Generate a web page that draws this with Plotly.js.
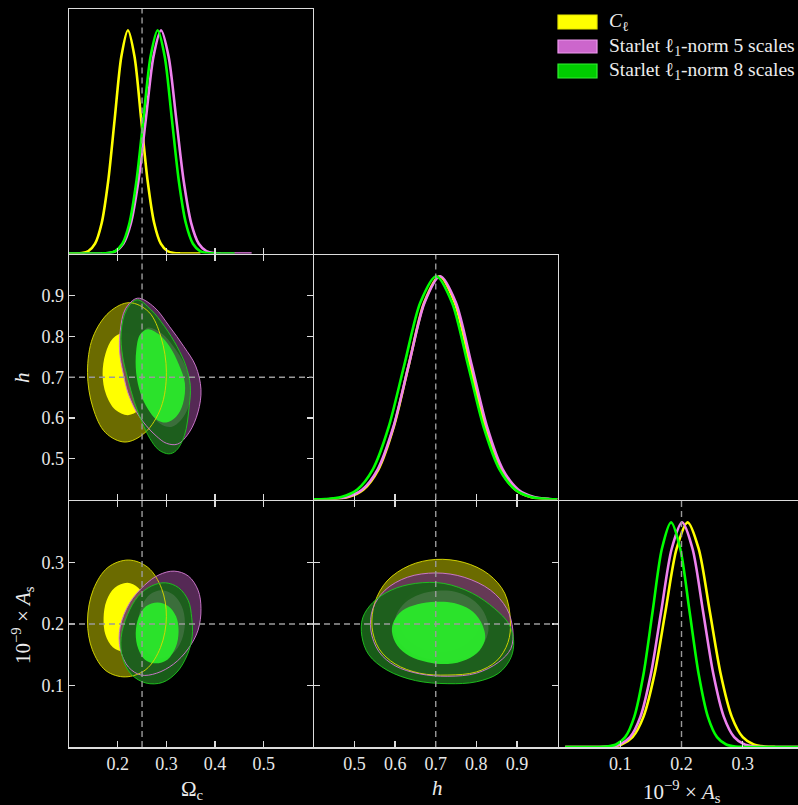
<!DOCTYPE html>
<html><head><meta charset="utf-8">
<script src="https://cdn.plot.ly/plotly-3.0.1.min.js"></script>
<style>html,body{margin:0;padding:0;background:#000;}</style>
</head><body><div id="chart" style="width:798px;height:805px;"></div>
<script>
// ---------- DATA ----------
const seriesNames = ['<i>C</i><sub>ℓ</sub>', 'Starlet ℓ<sub>1</sub>-norm 5 scales', 'Starlet ℓ<sub>1</sub>-norm 8 scales'];
const truthOmc = 0.25, truthH = 0.7, truthAs = 0.2;
const omcTicks = [0.2, 0.3, 0.4, 0.5], omcTickText = ['0.2', '0.3', '0.4', '0.5'];
const hTicks = [0.5, 0.6, 0.7, 0.8, 0.9], hTickText = ['0.5', '0.6', '0.7', '0.8', '0.9'];
const asTicks = [0.1, 0.2, 0.3], asTickText = ['0.1', '0.2', '0.3'];

// 1D marginals (normalised to peak 1)
const omcClX = [0.1, 0.113, 0.1265, 0.140, 0.1535, 0.167, 0.1805, 0.194, 0.2075, 0.221, 0.2345, 0.248, 0.2615, 0.275, 0.2885, 0.302, 0.3155, 0.329, 0.37];
const omcClY = [0, 0.0003, 0.0022, 0.0111, 0.0439, 0.1353, 0.3247, 0.6065, 0.8825, 1, 0.8825, 0.6065, 0.3247, 0.1353, 0.0439, 0.0111, 0.0022, 0.0003, 0];
const omcS5X = [0.1, 0.165, 0.1805, 0.196, 0.2115, 0.227, 0.2425, 0.258, 0.2735, 0.289, 0.3045, 0.320, 0.3355, 0.351, 0.3665, 0.382, 0.3975, 0.413, 0.475];
const omcS5Y = [0, 0.0003, 0.0022, 0.0111, 0.0439, 0.1353, 0.3247, 0.6065, 0.8825, 1, 0.8825, 0.6065, 0.3247, 0.1353, 0.0439, 0.0111, 0.0022, 0.0003, 0];
const omcS8X = [0.1, 0.166, 0.1805, 0.195, 0.2095, 0.224, 0.2385, 0.253, 0.2675, 0.282, 0.2965, 0.311, 0.3255, 0.340, 0.3545, 0.369, 0.3835, 0.398, 0.44];
const omcS8Y = [0, 0.0003, 0.0022, 0.0111, 0.0439, 0.1353, 0.3247, 0.6065, 0.8825, 1, 0.8825, 0.6065, 0.3247, 0.1353, 0.0439, 0.0111, 0.0022, 0.0003, 0];

const hClX = [0.4, 0.4465, 0.484, 0.5215, 0.559, 0.5965, 0.634, 0.6715, 0.709, 0.7465, 0.784, 0.8215, 0.859, 0.8965, 0.934, 0.9715, 1.0];
const hClY = [0.0002, 0.0022, 0.0111, 0.0439, 0.1353, 0.3247, 0.6065, 0.8825, 1, 0.8825, 0.6065, 0.3247, 0.1353, 0.0439, 0.0111, 0.0022, 0.0005];
const hS5X = [0.4, 0.4415, 0.480, 0.5185, 0.557, 0.5955, 0.634, 0.6725, 0.711, 0.7495, 0.788, 0.8265, 0.865, 0.9035, 0.942, 0.9805, 1.0];
const hS5Y = [0.0009, 0.0022, 0.0111, 0.0439, 0.1353, 0.3247, 0.6065, 0.8825, 1, 0.8825, 0.6065, 0.3247, 0.1353, 0.0439, 0.0111, 0.0022, 0.0009];
const hS8X = [0.4, 0.428, 0.467, 0.506, 0.545, 0.584, 0.623, 0.662, 0.701, 0.740, 0.779, 0.818, 0.857, 0.896, 0.935, 0.974, 1.0];
const hS8Y = [0.0006, 0.0022, 0.0111, 0.0439, 0.1353, 0.3247, 0.6065, 0.8825, 1, 0.8825, 0.6065, 0.3247, 0.1353, 0.0439, 0.0111, 0.0022, 0.0006];

const asClX = [0.01, 0.084, 0.102, 0.120, 0.138, 0.156, 0.174, 0.192, 0.210, 0.228, 0.246, 0.264, 0.282, 0.300, 0.318, 0.336, 0.354, 0.40];
const asClY = [0, 0.0022, 0.0111, 0.0439, 0.1353, 0.3247, 0.6065, 0.8825, 1, 0.8825, 0.6065, 0.3247, 0.1353, 0.0439, 0.0111, 0.0022, 0.0003, 0];
const asS5X = [0.01, 0.082, 0.099, 0.116, 0.133, 0.150, 0.167, 0.184, 0.201, 0.218, 0.235, 0.252, 0.269, 0.286, 0.303, 0.320, 0.337, 0.40];
const asS5Y = [0, 0.0022, 0.0111, 0.0439, 0.1353, 0.3247, 0.6065, 0.8825, 1, 0.8825, 0.6065, 0.3247, 0.1353, 0.0439, 0.0111, 0.0022, 0.0003, 0];
const asS8X = [0.01, 0.078, 0.093, 0.108, 0.123, 0.138, 0.153, 0.168, 0.183, 0.198, 0.213, 0.228, 0.243, 0.258, 0.273, 0.288, 0.303, 0.40];
const asS8Y = [0, 0.0022, 0.0111, 0.0439, 0.1353, 0.3247, 0.6065, 0.8825, 1, 0.8825, 0.6065, 0.3247, 0.1353, 0.0439, 0.0111, 0.0022, 0.0003, 0];

// 2D contours: Omega_c vs h
const omcH_Cl2_x = [0.300, 0.289, 0.264, 0.224, 0.183, 0.149, 0.138, 0.149, 0.175, 0.215, 0.256, 0.289];
const omcH_Cl2_y = [0.712, 0.798, 0.860, 0.883, 0.860, 0.798, 0.712, 0.626, 0.564, 0.541, 0.564, 0.626];
const omcH_Cl1_x = [0.265, 0.258, 0.240, 0.213, 0.190, 0.175, 0.169, 0.176, 0.195, 0.221, 0.244, 0.260];
const omcH_Cl1_y = [0.708, 0.758, 0.795, 0.809, 0.795, 0.758, 0.708, 0.658, 0.620, 0.607, 0.620, 0.658];
const omcH_S52_x = [0.241, 0.275, 0.306, 0.336, 0.360, 0.371, 0.365, 0.347, 0.323, 0.300, 0.279, 0.258, 0.238, 0.221, 0.211, 0.204, 0.205, 0.216];
const omcH_S52_y = [0.894, 0.872, 0.825, 0.775, 0.728, 0.670, 0.615, 0.565, 0.536, 0.538, 0.556, 0.582, 0.616, 0.662, 0.711, 0.762, 0.812, 0.868];
const omcH_S51_x = [0.262, 0.290, 0.315, 0.338, 0.350, 0.346, 0.330, 0.310, 0.288, 0.268, 0.253, 0.244, 0.243, 0.250];
const omcH_S51_y = [0.822, 0.808, 0.775, 0.730, 0.680, 0.630, 0.595, 0.578, 0.585, 0.612, 0.650, 0.700, 0.760, 0.805];
const omcH_S82_x = [0.240, 0.268, 0.296, 0.322, 0.340, 0.349, 0.347, 0.337, 0.320, 0.305, 0.284, 0.266, 0.250, 0.234, 0.221, 0.210, 0.207, 0.218];
const omcH_S82_y = [0.890, 0.866, 0.825, 0.775, 0.728, 0.680, 0.630, 0.557, 0.520, 0.512, 0.522, 0.550, 0.590, 0.640, 0.695, 0.752, 0.809, 0.865];
const omcH_S81_x = [0.262, 0.285, 0.307, 0.326, 0.338, 0.334, 0.320, 0.300, 0.280, 0.262, 0.247, 0.238, 0.238, 0.246];
const omcH_S81_y = [0.818, 0.805, 0.775, 0.730, 0.685, 0.635, 0.603, 0.589, 0.596, 0.622, 0.660, 0.710, 0.765, 0.805];

// 2D contours: Omega_c vs A_s
const omcAs_Cl2_x = [0.300, 0.290, 0.262, 0.222, 0.180, 0.150, 0.138, 0.148, 0.176, 0.216, 0.258, 0.288];
const omcAs_Cl2_y = [0.212, 0.258, 0.292, 0.304, 0.292, 0.256, 0.205, 0.158, 0.124, 0.114, 0.126, 0.162];
const omcAs_Cl1_x = [0.265, 0.259, 0.242, 0.220, 0.194, 0.177, 0.171, 0.175, 0.190, 0.212, 0.238, 0.256];
const omcAs_Cl1_y = [0.211, 0.239, 0.259, 0.267, 0.259, 0.238, 0.210, 0.182, 0.162, 0.155, 0.162, 0.183];
const omcAs_S52_x = [0.371, 0.365, 0.345, 0.316, 0.285, 0.255, 0.225, 0.205, 0.205, 0.222, 0.248, 0.280, 0.315, 0.345, 0.365];
const omcAs_S52_y = [0.225, 0.255, 0.278, 0.286, 0.280, 0.263, 0.235, 0.195, 0.160, 0.130, 0.117, 0.120, 0.135, 0.160, 0.190];
const omcAs_S51_x = [0.338, 0.332, 0.315, 0.291, 0.266, 0.249, 0.242, 0.248, 0.264, 0.288, 0.313, 0.331];
const omcAs_S51_y = [0.202, 0.228, 0.247, 0.255, 0.248, 0.228, 0.200, 0.172, 0.152, 0.145, 0.152, 0.173];
const omcAs_S82_x = [0.352, 0.345, 0.325, 0.298, 0.270, 0.242, 0.220, 0.207, 0.210, 0.228, 0.258, 0.292, 0.322, 0.343, 0.353];
const omcAs_S82_y = [0.210, 0.238, 0.259, 0.267, 0.262, 0.245, 0.215, 0.178, 0.145, 0.118, 0.104, 0.105, 0.122, 0.150, 0.180];
const omcAs_S81_x = [0.325, 0.320, 0.304, 0.282, 0.258, 0.243, 0.237, 0.242, 0.256, 0.278, 0.302, 0.319];
const omcAs_S81_y = [0.188, 0.212, 0.229, 0.235, 0.229, 0.211, 0.185, 0.160, 0.142, 0.136, 0.142, 0.162];

// 2D contours: h vs A_s
const hAs_Cl2_x = [0.884, 0.870, 0.830, 0.770, 0.700, 0.635, 0.580, 0.550, 0.543, 0.560, 0.600, 0.660, 0.730, 0.800, 0.850, 0.878];
const hAs_Cl2_y = [0.205, 0.250, 0.281, 0.300, 0.305, 0.295, 0.270, 0.235, 0.195, 0.160, 0.135, 0.120, 0.117, 0.122, 0.140, 0.170];
const hAs_Cl1_x = [0.810, 0.797, 0.760, 0.710, 0.660, 0.623, 0.610, 0.623, 0.660, 0.710, 0.760, 0.797];
const hAs_Cl1_y = [0.210, 0.238, 0.258, 0.266, 0.258, 0.238, 0.210, 0.182, 0.162, 0.154, 0.162, 0.182];
const hAs_S52_x = [0.890, 0.875, 0.835, 0.770, 0.700, 0.630, 0.575, 0.545, 0.540, 0.560, 0.600, 0.660, 0.730, 0.800, 0.855, 0.885];
const hAs_S52_y = [0.190, 0.225, 0.255, 0.276, 0.283, 0.276, 0.255, 0.225, 0.190, 0.155, 0.132, 0.119, 0.115, 0.120, 0.138, 0.160];
const hAs_S51_x = [0.830, 0.818, 0.790, 0.750, 0.705, 0.660, 0.625, 0.603, 0.598, 0.612, 0.642, 0.688, 0.740, 0.785, 0.815];
const hAs_S51_y = [0.192, 0.220, 0.240, 0.252, 0.254, 0.248, 0.235, 0.215, 0.192, 0.170, 0.153, 0.143, 0.141, 0.148, 0.165];
const hAs_S82_x = [0.892, 0.880, 0.845, 0.790, 0.720, 0.650, 0.590, 0.545, 0.520, 0.518, 0.535, 0.580, 0.650, 0.730, 0.800, 0.855, 0.885];
const hAs_S82_y = [0.172, 0.200, 0.225, 0.250, 0.266, 0.266, 0.255, 0.235, 0.210, 0.180, 0.150, 0.125, 0.108, 0.103, 0.106, 0.120, 0.145];
const hAs_S81_x = [0.822, 0.810, 0.785, 0.745, 0.700, 0.655, 0.618, 0.597, 0.592, 0.605, 0.635, 0.680, 0.730, 0.775, 0.808];
const hAs_S81_y = [0.178, 0.205, 0.223, 0.234, 0.236, 0.232, 0.222, 0.205, 0.188, 0.165, 0.148, 0.138, 0.135, 0.142, 0.157];

// ---------- STYLE / LAYOUT ----------
const W = 798, H = 805;
const FONT = 'Liberation Serif, DejaVu Serif, serif';
const LW = 1.5;
const colLine = ['#ffff00', '#ee82ee', '#00ff00'];
const fill2 = ['rgba(255,255,0,0.42)', 'rgba(100,48,100,0.85)', 'rgba(26,98,26,0.94)'];
const fill1 = ['rgba(255,255,0,1)', 'rgba(215,200,215,0.16)', 'rgba(42,234,42,0.94)'];
const edge2 = ['rgba(215,215,0,0.95)', 'rgba(205,120,205,0.95)', 'rgba(30,200,30,0.9)'];

function close(a) { return a.concat([a[0]]); }
function fillTr(xs, ys, xa, ya, c) {
  return {type: 'scatter', mode: 'lines', x: close(xs), y: close(ys), xaxis: xa, yaxis: ya,
    fill: 'toself', fillcolor: c, line: {width: 0, shape: 'spline', smoothing: 1, color: c},
    hoverinfo: 'skip', showlegend: false};
}
function edgeTr(xs, ys, xa, ya, c) {
  return {type: 'scatter', mode: 'lines', x: close(xs), y: close(ys), xaxis: xa, yaxis: ya,
    line: {width: 1, shape: 'spline', smoothing: 1, color: c}, hoverinfo: 'skip', showlegend: false};
}
function margTr(xs, ys, xa, ya, c) {
  return {type: 'scatter', mode: 'lines', x: xs, y: ys, xaxis: xa, yaxis: ya,
    line: {width: 2.6, shape: 'spline', smoothing: 0.8, color: c}, hoverinfo: 'skip', showlegend: false};
}
function panel2D(xa, ya, c) {
  return [
    fillTr(c[0][0], c[0][1], xa, ya, fill2[0]),
    fillTr(c[1][0], c[1][1], xa, ya, fill1[0]),
    fillTr(c[2][0], c[2][1], xa, ya, fill2[1]),
    fillTr(c[4][0], c[4][1], xa, ya, fill2[2]),
    fillTr(c[3][0], c[3][1], xa, ya, fill1[1]),
    fillTr(c[5][0], c[5][1], xa, ya, fill1[2]),
    edgeTr(c[0][0], c[0][1], xa, ya, edge2[0]),
    edgeTr(c[2][0], c[2][1], xa, ya, edge2[1]),
    edgeTr(c[4][0], c[4][1], xa, ya, edge2[2]),
  ];
}

const traces = [].concat(
  [margTr(omcClX, omcClY, 'x', 'y', colLine[0]), margTr(omcS5X, omcS5Y, 'x', 'y', colLine[1]), margTr(omcS8X, omcS8Y, 'x', 'y', colLine[2])],
  panel2D('x2', 'y2', [[omcH_Cl2_x, omcH_Cl2_y], [omcH_Cl1_x, omcH_Cl1_y], [omcH_S52_x, omcH_S52_y], [omcH_S51_x, omcH_S51_y], [omcH_S82_x, omcH_S82_y], [omcH_S81_x, omcH_S81_y]]),
  [margTr(hClX, hClY, 'x3', 'y3', colLine[0]), margTr(hS5X, hS5Y, 'x3', 'y3', colLine[1]), margTr(hS8X, hS8Y, 'x3', 'y3', colLine[2])],
  panel2D('x4', 'y4', [[omcAs_Cl2_x, omcAs_Cl2_y], [omcAs_Cl1_x, omcAs_Cl1_y], [omcAs_S52_x, omcAs_S52_y], [omcAs_S51_x, omcAs_S51_y], [omcAs_S82_x, omcAs_S82_y], [omcAs_S81_x, omcAs_S81_y]]),
  panel2D('x5', 'y5', [[hAs_Cl2_x, hAs_Cl2_y], [hAs_Cl1_x, hAs_Cl1_y], [hAs_S52_x, hAs_S52_y], [hAs_S51_x, hAs_S51_y], [hAs_S82_x, hAs_S82_y], [hAs_S81_x, hAs_S81_y]]),
  [margTr(asClX, asClY, 'x6', 'y6', colLine[0]), margTr(asS5X, asS5Y, 'x6', 'y6', colLine[1]), margTr(asS8X, asS8Y, 'x6', 'y6', colLine[2])]
);

const px = v => v / W, py = v => 1 - v / H;
// shared edges: the panel before an edge stops one line-width short so both axis lines coincide
const col1 = [px(69), px(314 - LW)], col2 = [px(314), px(559 - LW)], col3 = [px(559), 1];
const row1 = [py(255 - LW), py(9)], row2 = [py(501 - LW), py(255)], row3 = [py(747), py(501)];
const MARG = 1.095;

const base = {showgrid: false, zeroline: false, showline: true, linecolor: '#dcdcdc', linewidth: LW,
  ticks: 'inside', ticklen: 6, tickwidth: 1.4, tickcolor: '#dcdcdc',
  tickfont: {family: FONT, size: 18, color: '#e8e8e8'}, fixedrange: true, tickmode: 'array'};
function ax(o) { return Object.assign({}, base, o); }
const omcAx = {range: [0.1, 0.6], tickvals: omcTicks, ticktext: omcTickText};
const hAx = {range: [0.4, 1.0], tickvals: hTicks, ticktext: hTickText};
const asAx = {range: [0, 0.4 * (W - 559) / 245], tickvals: asTicks, ticktext: asTickText};
const asAxY = {range: [0, 0.4], tickvals: asTicks, ticktext: asTickText};
const margY = {range: [0, MARG], ticks: '', showticklabels: false};

const layout = {
  width: W, height: H, margin: {l: 0, r: 0, t: 0, b: 0},
  paper_bgcolor: '#000', plot_bgcolor: '#000', showlegend: false,
  font: {family: FONT, color: '#e8e8e8'},
  xaxis: ax(Object.assign({}, omcAx, {domain: col1, anchor: 'y', mirror: true, showticklabels: false})),
  yaxis: ax(Object.assign({}, margY, {domain: row1, anchor: 'x', mirror: true})),
  xaxis2: ax(Object.assign({}, omcAx, {domain: col1, anchor: 'y2', mirror: 'ticks', showticklabels: false})),
  yaxis2: ax(Object.assign({}, hAx, {domain: row2, anchor: 'x2', mirror: 'ticks'})),
  xaxis3: ax(Object.assign({}, hAx, {domain: col2, anchor: 'y3', mirror: true, showticklabels: false})),
  yaxis3: ax(Object.assign({}, margY, {domain: row2, anchor: 'x3', mirror: true})),
  xaxis4: ax(Object.assign({}, omcAx, {domain: col1, anchor: 'y4', mirror: 'ticks'})),
  yaxis4: ax(Object.assign({}, asAxY, {domain: row3, anchor: 'x4', mirror: 'ticks'})),
  xaxis5: ax(Object.assign({}, hAx, {domain: col2, anchor: 'y5', mirror: 'ticks'})),
  yaxis5: ax(Object.assign({}, asAxY, {domain: row3, anchor: 'x5', mirror: 'ticks', showticklabels: false})),
  xaxis6: ax(Object.assign({}, asAx, {domain: col3, anchor: 'y6', mirror: true})),
  yaxis6: ax(Object.assign({}, margY, {domain: row3, anchor: 'x6', mirror: false})),
  shapes: [], annotations: []
};

const dash = {color: '#9a9a9a', width: 1.4, dash: '6px,4px'};
function vline(xa, ya, v) { return {type: 'line', xref: xa, yref: ya + ' domain', x0: v, x1: v, y0: 0, y1: 1, line: dash, layer: 'above'}; }
function hline(xa, ya, v) { return {type: 'line', xref: xa + ' domain', yref: ya, x0: 0, x1: 1, y0: v, y1: v, line: dash, layer: 'above'}; }
layout.shapes.push(
  vline('x', 'y', truthOmc),
  vline('x2', 'y2', truthOmc), hline('x2', 'y2', truthH),
  vline('x3', 'y3', truthH),
  vline('x4', 'y4', truthOmc), hline('x4', 'y4', truthAs),
  vline('x5', 'y5', truthH), hline('x5', 'y5', truthAs),
  vline('x6', 'y6', truthAs)
);

// legend (patches + labels)
const legFill = ['#ffff00', '#cc66cc', '#00cc00'];
const legEdge = ['#e6e600', '#ee99ee', '#33ee33'];
const legRows = [[15, 29], [40, 53], [64, 78]];
legRows.forEach((r, i) => {
  layout.shapes.push({type: 'rect', xref: 'paper', yref: 'paper', x0: px(558), x1: px(597), y0: py(r[1]), y1: py(r[0]),
    fillcolor: legFill[i], line: {color: legEdge[i], width: 1.2}});
  layout.annotations.push({xref: 'paper', yref: 'paper', x: px(607), y: py((r[0] + r[1]) / 2), xanchor: 'left', yanchor: 'middle',
    text: seriesNames[i], showarrow: false, font: {family: FONT, size: 19.5, color: '#ececec'}});
});

// axis titles
const tfont = {family: FONT, size: 21, color: '#ececec'};
layout.annotations.push(
  {xref: 'paper', yref: 'paper', x: px(192), y: py(790), text: 'Ω<sub>c</sub>', showarrow: false, font: tfont, xanchor: 'center', yanchor: 'middle'},
  {xref: 'paper', yref: 'paper', x: px(437), y: py(788), text: '<i>h</i>', showarrow: false, font: tfont, xanchor: 'center', yanchor: 'middle'},
  {xref: 'paper', yref: 'paper', x: px(682), y: py(791), text: '10<sup>−9</sup> × <i>A</i><sub>s</sub>', showarrow: false, font: tfont, xanchor: 'center', yanchor: 'middle'},
  {xref: 'paper', yref: 'paper', x: px(22), y: py(378), text: '<i>h</i>', showarrow: false, font: tfont, textangle: -90, xanchor: 'center', yanchor: 'middle'},
  {xref: 'paper', yref: 'paper', x: px(22), y: py(625), text: '10<sup>−9</sup> × <i>A</i><sub>s</sub>', showarrow: false, font: tfont, textangle: -90, xanchor: 'center', yanchor: 'middle'}
);

Plotly.newPlot('chart', traces, layout, {staticPlot: true, displayModeBar: false});
</script></body></html>
